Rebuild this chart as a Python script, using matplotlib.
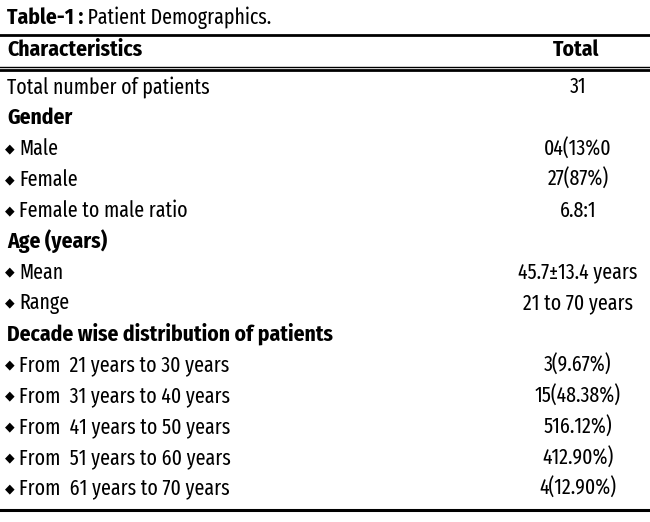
import matplotlib
matplotlib.use("Agg")
import matplotlib.pyplot as plt

# table content
title_bold = "Table-1 :"
title_rest = " Patient Demographics."
col_headers = ["Characteristics", "Total"]
row_labels = [
    "Total number of patients",
    "Gender",
    "Male",
    "Female",
    "Female to male ratio",
    "Age (years)",
    "Mean",
    "Range",
    "Decade wise distribution of patients",
    "From  21 years to 30 years",
    "From  31 years to 40 years",
    "From  41 years to 50 years",
    "From  51 years to 60 years",
    "From  61 years to 70 years",
]
row_values = ["31", "", "04(13%0", "27(87%)", "6.8:1", "", "45.7\u00b113.4 years",
              "21 to 70 years", "", "3(9.67%)", "15(48.38%)", "516.12%)",
              "412.90%)", "4(12.90%)"]
is_group = [False, True, False, False, False, True, False, False, True,
            False, False, False, False, False]
is_item = [False, False, True, True, True, False, True, True, False,
           True, True, True, True, True]

FONT = ["Fira Sans Extra Condensed", "PT Sans Narrow", "DejaVu Sans"]
FONT_B = ["Fira Sans Condensed", "Fira Sans Extra Condensed", "DejaVu Sans"]

fig = plt.figure(figsize=(6.5, 5.22), dpi=100)
ax = fig.add_axes([0, 0, 1, 1])
ax.set_xlim(0, 650)
ax.set_ylim(522, 0)
ax.axis("off")

fs = 15.5
fs_b = 15.5

# title
t = ax.text(7, 18, title_bold, fontsize=fs_b, fontweight="bold", family=FONT_B, va="center")
fig.canvas.draw()
bb = t.get_window_extent().transformed(ax.transData.inverted())
ax.text(bb.x1, 18, title_rest, fontsize=fs, family=FONT, va="center")

# rules
ax.plot([0, 650], [35, 35], color="black", lw=2.0)
ax.plot([0, 650], [66.5, 66.5], color="black", lw=1.0)
ax.plot([0, 650], [69.5, 69.5], color="black", lw=2.0)
ax.plot([0, 650], [510, 510], color="black", lw=2.2)

# header
ax.text(7, 50, col_headers[0], fontsize=fs_b, fontweight="bold", family=FONT_B, va="center")
ax.text(576, 50, col_headers[1], fontsize=fs_b, fontweight="bold", family=FONT_B,
        va="center", ha="center")

y0 = 87
dy = 30.9
for i, (lab, val) in enumerate(zip(row_labels, row_values)):
    y = y0 + i * dy
    if is_group[i]:
        ax.text(7, y, lab, fontsize=fs_b, fontweight="bold", family=FONT_B, va="center")
    elif is_item[i]:
        ax.text(5, y, "\u25c6", fontsize=9, family=["DejaVu Sans"], va="center")
        ax.text(19, y, lab, fontsize=fs, family=FONT, va="center")
    else:
        ax.text(7, y, lab, fontsize=fs, family=FONT, va="center")
    if val:
        ax.text(578, y, val, fontsize=fs, family=FONT, va="center", ha="center")

fig.savefig("out.png", dpi=100)
